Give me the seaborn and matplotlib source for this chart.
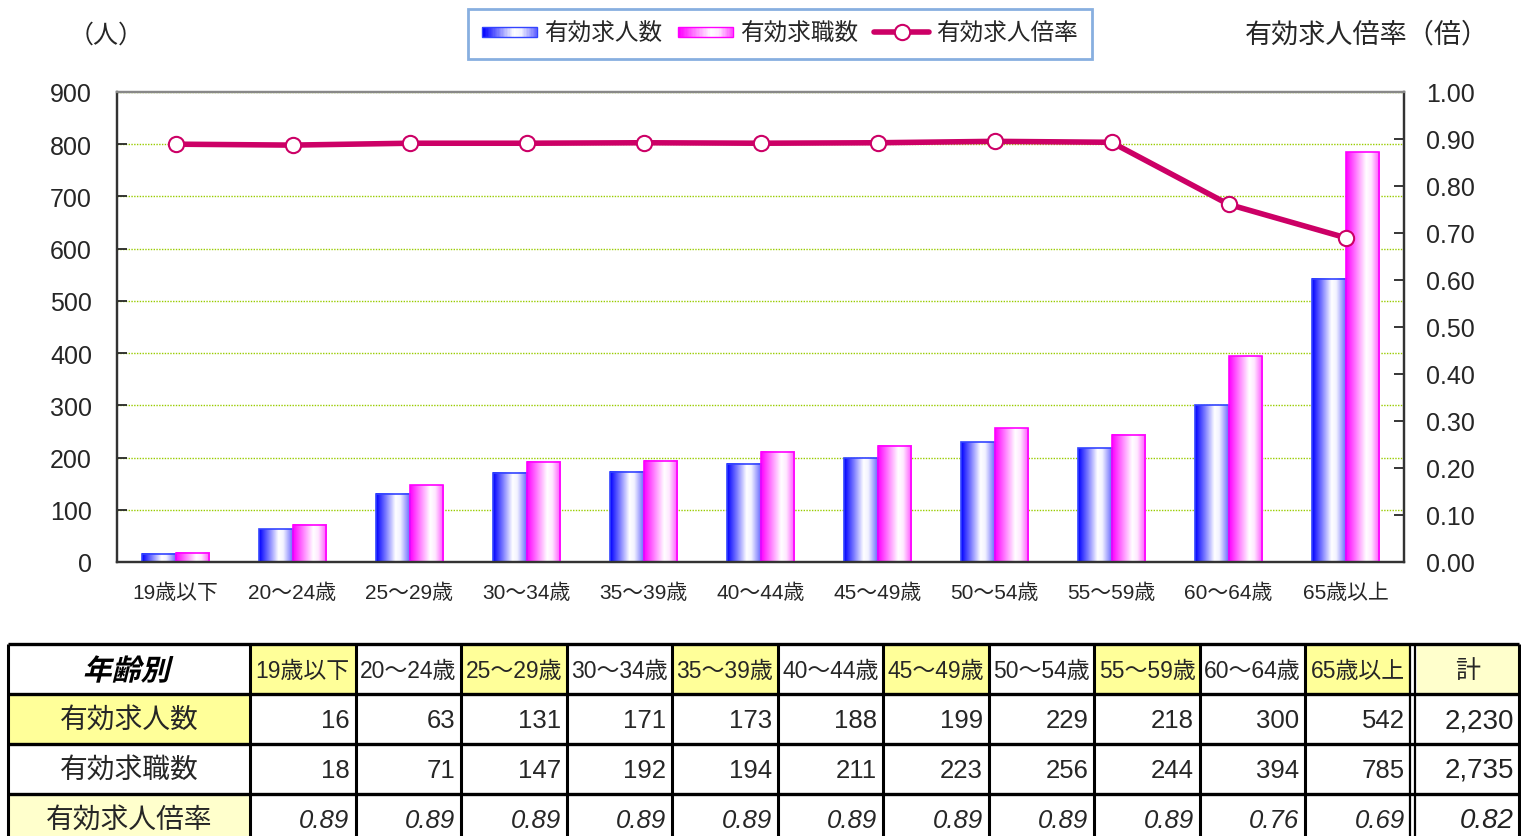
import numpy as np
import pandas as pd
import seaborn as sns
import matplotlib
matplotlib.use("Agg")
import matplotlib.pyplot as plt
from matplotlib.colors import LinearSegmentedColormap
from matplotlib.patches import Rectangle, PathPatch
from matplotlib.lines import Line2D
from matplotlib.legend_handler import HandlerBase
from matplotlib.textpath import TextPath
from matplotlib.font_manager import FontProperties
from matplotlib.transforms import Affine2D

ages = ["19歳以下", "20～24歳", "25～29歳", "30～34歳", "35～39歳", "40～44歳",
        "45～49歳", "50～54歳", "55～59歳", "60～64歳", "65歳以上"]
jobs = [16, 63, 131, 171, 173, 188, 199, 229, 218, 300, 542]        # 有効求人数
seekers = [18, 71, 147, 192, 194, 211, 223, 256, 244, 394, 785]     # 有効求職数
ratio = [0.889, 0.887, 0.891, 0.891, 0.892, 0.891, 0.892, 0.895, 0.893, 0.761, 0.690]
ratio_shown = ["0.89", "0.89", "0.89", "0.89", "0.89", "0.89", "0.89", "0.89", "0.89", "0.76", "0.69"]
totals = ["2,230", "2,735", "0.82"]
series_names = ["有効求人数", "有効求職数", "有効求人倍率"]

sns.set_style("white")
plt.rcParams["font.family"] = ["Liberation Sans", "Noto Sans CJK JP"]

W, H = 1521, 837
fig = plt.figure(figsize=(W / 100, H / 100), dpi=100)

ax = fig.add_axes([117 / W, 1 - 563 / H, (1404 - 117) / W, (563 - 93) / H])

df = pd.DataFrame({
    "age": ages * 2,
    "count": jobs + seekers,
    "series": [series_names[0]] * len(ages) + [series_names[1]] * len(ages),
})
sns.barplot(data=df, x="age", y="count", hue="series", palette=["#0000FF", "#FF00FF"],
            width=0.58, saturation=1, legend=False, ax=ax)

blue_cm = LinearSegmentedColormap.from_list(
    "bl", [(0, "#0000FF"), (0.3, "#8080FF"), (0.58, "#FFFFFF"), (0.72, "#F2F2FF"), (1, "#6A6AFF")])
pink_cm = LinearSegmentedColormap.from_list(
    "pk", [(0, "#FF00FF"), (0.3, "#FF80FF"), (0.6, "#FFFFFF"), (0.75, "#FFE8FF"), (1, "#FF50FF")])
grad = np.linspace(0, 1, 128).reshape(1, -1)

for cont, cm, ec in zip(ax.containers, [blue_cm, pink_cm], ["#3344FF", "#FF00FF"]):
    for p in cont:
        x0, y0, w, h = p.get_x(), p.get_y(), p.get_width(), p.get_height()
        ax.imshow(grad, extent=[x0, x0 + w, y0, y0 + h], cmap=cm, aspect="auto",
                  zorder=2, interpolation="bilinear")
        p.set_facecolor("none")
        p.set_edgecolor(ec)
        p.set_linewidth(1.2)
        p.set_zorder(3)

ax.set_xlim(-0.5, len(ages) - 0.5)
ax.set_ylim(0, 900)
ax.set_yticks(range(0, 1000, 100))
ax.set_xticks(np.arange(0.5, len(ages) - 1, 1), minor=True)
ax.yaxis.grid(True, color="#99CC00", linestyle=(0, (1, 1)), linewidth=1)
ax.xaxis.grid(False)
ax.set_axisbelow(True)
ax.set_xlabel("")
ax.set_ylabel("")
ax.tick_params(axis="y", direction="in", length=7, width=1.3, pad=18, labelsize=18)
ax.tick_params(axis="x", which="major", length=0, pad=15, labelsize=15)
ax.tick_params(axis="x", which="minor", direction="in", length=6, width=1.3)

ax2 = ax.twinx()
sns.lineplot(x=np.arange(len(ages)), y=ratio, ax=ax2, color="#CC0066", linewidth=4,
             marker="o", markersize=11, markerfacecolor="white",
             markeredgecolor="#CC0066", markeredgewidth=1.5)
ax2.set_ylim(0, 1.0)
ax2.set_yticks(np.arange(0, 1.01, 0.1))
ax2.yaxis.set_major_formatter(plt.FormatStrFormatter("%.2f"))
ax2.tick_params(axis="y", direction="in", length=7, width=1.3, pad=16, labelsize=18)
ax2.set_xlim(-0.5, len(ages) - 0.5)
ax2.set_ylabel("")

for a in (ax, ax2):
    for s in ["left", "bottom", "right"]:
        a.spines[s].set_color("#333333")
        a.spines[s].set_linewidth(1.6)
    a.spines["top"].set_color("#888888")
    a.spines["top"].set_linewidth(1.6)

fig.text(106 / W, 1 - 36 / H, "（人）", ha="center", va="center", fontsize=18)
fig.text(1367 / W, 1 - 35 / H, "有効求人倍率（倍）", ha="center", va="center", fontsize=19.5)


class GradHandler(HandlerBase):
    def __init__(self, cmap, edge):
        super().__init__()
        self.cmap = cmap
        self.edge = edge

    def create_artists(self, legend, orig_handle, xdescent, ydescent, width, height,
                       fontsize, trans):
        n = 40
        hh = height * 0.6
        y = -ydescent + (height - hh) / 2
        arts = []
        for i in range(n):
            arts.append(Rectangle((-xdescent + width * i / n, y), width / n * 1.05, hh,
                                  facecolor=self.cmap(i / (n - 1)), edgecolor="none",
                                  transform=trans))
        arts.append(Rectangle((-xdescent, y), width, hh, facecolor="none",
                              edgecolor=self.edge, lw=1, transform=trans))
        return arts


h_blue = Rectangle((0, 0), 1, 1, label=series_names[0])
h_pink = Rectangle((0, 0), 1, 1, label=series_names[1])
h_line = Line2D([], [], color="#CC0066", linewidth=4, marker="o", markersize=11,
                markerfacecolor="white", markeredgecolor="#CC0066",
                markeredgewidth=1.5, label=series_names[2])
leg = fig.legend(handles=[h_blue, h_pink, h_line],
                 handler_map={h_blue: GradHandler(blue_cm, "#3344FF"),
                              h_pink: GradHandler(pink_cm, "#FF00FF")},
                 loc="center", bbox_to_anchor=(780 / W, 1 - 35 / H), ncol=3,
                 fontsize=17, frameon=True, fancybox=False, edgecolor="#6A9BD8",
                 handlelength=2.3, handletextpad=0.3, columnspacing=0.7,
                 borderpad=0.6)
leg.get_frame().set_linewidth(2)

# table below the chart (pixel coordinates)
tab = fig.add_axes([0, 0, 1, 1])
tab.set_xlim(0, W)
tab.set_ylim(H, 0)
tab.axis("off")

x_left = 8
col_edges = np.linspace(250, 1411, len(ages) + 1)
tot_l, tot_r = 1417, 1519
row_edges = [645, 695, 745, 795, 845]
yellow, light = "#FFFF99", "#FFFFCC"

for i in range(len(ages)):
    fc = yellow if i % 2 == 0 else "white"
    tab.add_patch(Rectangle((col_edges[i], row_edges[0]), col_edges[i + 1] - col_edges[i],
                            row_edges[1] - row_edges[0], facecolor=fc, edgecolor="none"))
tab.add_patch(Rectangle((tot_l, row_edges[0]), tot_r - tot_l, row_edges[1] - row_edges[0],
                        facecolor=light, edgecolor="none"))
for r, fc in zip(range(1, 4), [yellow, "white", light]):
    tab.add_patch(Rectangle((x_left, row_edges[r]), 250 - x_left,
                            row_edges[r + 1] - row_edges[r], facecolor=fc, edgecolor="none"))

for y in row_edges[:4]:
    tab.plot([x_left, tot_r], [y, y], color="black", lw=2.4, solid_capstyle="butt")
for x in [x_left] + list(col_edges[:-1]) + [tot_r]:
    tab.plot([x, x], [row_edges[0], H], color="black", lw=2.2, solid_capstyle="butt")
for x in [col_edges[-1] - 1, tot_l - 2]:
    tab.plot([x, x], [row_edges[0], H], color="black", lw=1.6, solid_capstyle="butt")

# 年齢別 in bold italic (sheared text path)
tp = TextPath((0, 0), "年齢別", size=29,
              prop=FontProperties(family="Noto Sans CJK JP", weight="bold"))
tp = Affine2D().skew_deg(14, 0).scale(1, -1).transform_path(tp)
ext = tp.get_extents()
cx, cy = (x_left + 250) / 2, (row_edges[0] + row_edges[1]) / 2
tp = Affine2D().translate(cx - (ext.x0 + ext.x1) / 2, cy - (ext.y0 + ext.y1) / 2).transform_path(tp)
tab.add_patch(PathPatch(tp, facecolor="black", edgecolor="none"))

ymid = [(row_edges[k] + row_edges[k + 1]) / 2 for k in range(4)]
for i, a in enumerate(ages):
    tab.text((col_edges[i] + col_edges[i + 1]) / 2, ymid[0] + 1, a, ha="center", va="center",
             fontsize=16.5)
tab.text((tot_l + tot_r) / 2, ymid[0] + 1, "計", ha="center", va="center", fontsize=18)

for r, name in enumerate(series_names):
    tab.text((x_left + 250) / 2, ymid[r + 1] + 1, name, ha="center", va="center", fontsize=20)

for i in range(len(ages)):
    xr = col_edges[i + 1] - 6
    tab.text(xr, ymid[1] + 1, str(jobs[i]), ha="right", va="center", fontsize=18.5)
    tab.text(xr, ymid[2] + 1, str(seekers[i]), ha="right", va="center", fontsize=18.5)
    tab.text(xr, ymid[3] + 1, ratio_shown[i], ha="right", va="center", fontsize=18.5,
             style="italic")
for r, t in enumerate(totals):
    tab.text(tot_r - 5, ymid[r + 1] + 1, t, ha="right", va="center", fontsize=20,
             color="#222222", style="italic" if r == 2 else "normal")

fig.savefig("out.png", dpi=100)
